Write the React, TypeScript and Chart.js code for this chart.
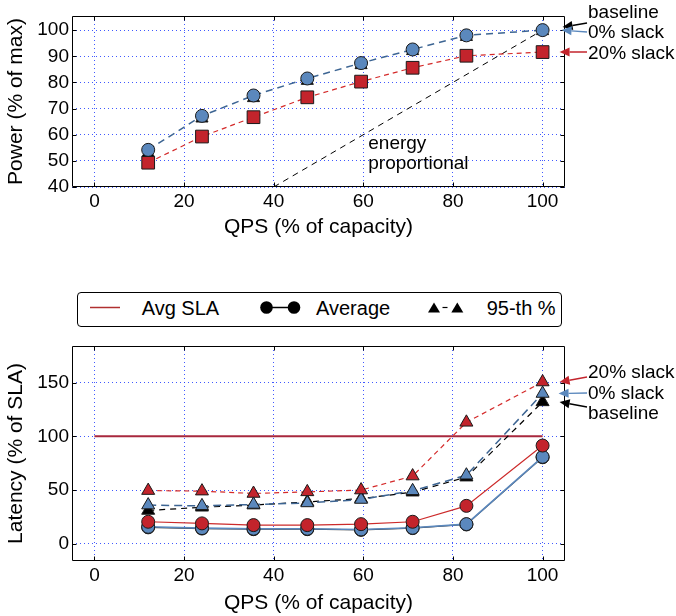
import { useEffect, useRef } from "react";
import { Chart, registerables } from "chart.js";

Chart.register(...registerables);

const FONT = "'Liberation Sans', Arial, Helvetica, sans-serif";

// ---------- data ----------
const qps = [12, 24, 35.5, 47.5, 59.5, 71, 83, 100];
const qpsTicks = [0, 20, 40, 60, 80, 100];

const powerBaseline = [53, 66.2, 74, 80.6, 86.6, 92, 97.4, 99.6];
const power0Slack = [54.2, 67.2, 75, 81.5, 87.4, 92.6, 98, 100];
const power20Slack = [49.3, 59.3, 66.7, 74.3, 80.3, 85.6, 90.2, 91.6];
const energyPropX = [40, 100];
const energyPropY = [40, 100];
const powerTicks = [40, 50, 60, 70, 80, 90, 100];

const latAvgBaseline = [15.3, 14.2, 13.6, 13.6, 13, 14.6, 18, 80.5];
const latAvg0Slack = [15.8, 14.6, 14, 14, 13.3, 14.9, 18.3, 80.9];
const latAvg20Slack = [20.5, 19, 17.4, 17.4, 18.3, 20.5, 35.3, 91.4];
const lat95Baseline = [31, 34, 36, 39, 42, 48, 62, 132];
const lat95_0Slack = [36, 35.3, 36.6, 38, 41.2, 49.3, 63.8, 139.8];
const lat95_20Slack = [49.5, 49, 46.8, 48.3, 50, 63, 113, 150.5];
const slaX = [0, 100];
const slaY = [100, 100];
const latTicks = [0, 50, 100, 150];

// ---------- styles ----------
const GRID = "rgba(30,60,255,0.85)";
const RED = "#c3242c";
const BLUE = "#5b88bd";
const DBLUE = "#3d6593";
const EDGE = "#1a1a1a";

const xy = (xs: number[], ys: number[]) => xs.map((x, i) => ({ x, y: ys[i] }));

function drawArrow(ctx: CanvasRenderingContext2D, x1: number, y1: number, x2: number, y2: number, color: string) {
  const a = Math.atan2(y2 - y1, x2 - x1);
  const L = 10, W = 4.5;
  const c = Math.cos(a), s = Math.sin(a);
  ctx.strokeStyle = color;
  ctx.fillStyle = color;
  ctx.lineWidth = 1.4;
  ctx.beginPath();
  ctx.moveTo(x1, y1);
  ctx.lineTo(x2 - L * c, y2 - L * s);
  ctx.stroke();
  ctx.beginPath();
  ctx.moveTo(x2, y2);
  ctx.lineTo(x2 - L * c - W * s, y2 - L * s + W * c);
  ctx.lineTo(x2 - L * c + W * s, y2 - L * s - W * c);
  ctx.closePath();
  ctx.fill();
}

const framePlugin = {
  id: "frame",
  beforeDatasetsDraw(chart: any) {
    const { ctx, chartArea: a, scales } = chart;
    ctx.save();
    ctx.strokeStyle = "#000";
    ctx.lineWidth = 1;
    const l = Math.round(a.left) + 0.5, r = Math.round(a.right) - 0.5;
    const t = Math.round(a.top) + 0.5, b = Math.round(a.bottom) - 0.5;
    ctx.beginPath();
    ctx.rect(l, t, r - l, b - t);
    for (const tk of scales.x.ticks) {
      const px = Math.round(scales.x.getPixelForValue(tk.value)) + 0.5;
      ctx.moveTo(px, b); ctx.lineTo(px, b - 4);
      ctx.moveTo(px, t); ctx.lineTo(px, t + 4);
    }
    for (const tk of scales.y.ticks) {
      const py = Math.round(scales.y.getPixelForValue(tk.value)) + 0.5;
      ctx.moveTo(l, py); ctx.lineTo(l + 4, py);
      ctx.moveTo(r, py); ctx.lineTo(r - 4, py);
    }
    ctx.stroke();
    ctx.restore();
  },
  afterDraw(chart: any, _args: any, opts: any) {
    const { ctx, scales, chartArea } = chart;
    ctx.save();
    ctx.font = `19px ${FONT}`;
    ctx.textBaseline = "middle";
    ctx.textAlign = "left";
    for (const it of opts.notes || []) {
      ctx.fillStyle = "#000";
      ctx.fillText(it.text, chartArea.right + 23, it.textY);
      const tx = scales.x.getPixelForValue(it.target[0]) + it.dx;
      const ty = scales.y.getPixelForValue(it.target[1]) + it.dy;
      drawArrow(ctx, chartArea.right + 22, it.tailY, tx, ty, it.color);
    }
    for (const lb of opts.labels || []) {
      ctx.fillStyle = "#000";
      const px = scales.x.getPixelForValue(lb.at[0]);
      const py = scales.y.getPixelForValue(lb.at[1]);
      lb.lines.forEach((s: string, i: number) => ctx.fillText(s, px, py + i * 20));
    }
    ctx.restore();
  },
};

function makeScales(yMin: number, yMax: number, yTicks: number[], yTitle: string, xHeight: number) {
  const tickFont = { size: 19, family: FONT };
  const titleFont = { size: 21, family: FONT };
  return {
    x: {
      type: "linear",
      min: -5,
      max: 105,
      afterBuildTicks: (s: any) => { s.ticks = qpsTicks.map((v) => ({ value: v })); },
      afterFit: (s: any) => { s.height = xHeight; },
      grid: { color: GRID, lineWidth: 1, drawTicks: false },
      border: { display: false, dash: [1, 3] },
      ticks: { color: "#000", font: tickFont, padding: 3, maxRotation: 0, autoSkip: false },
      title: { display: true, text: "QPS (% of capacity)", color: "#000", font: titleFont, padding: { top: 0, bottom: 0 } },
    },
    y: {
      type: "linear",
      min: yMin,
      max: yMax,
      afterBuildTicks: (s: any) => { s.ticks = yTicks.map((v) => ({ value: v })); },
      afterFit: (s: any) => { s.width = 72; },
      grid: { color: GRID, lineWidth: 1, drawTicks: false },
      border: { display: false, dash: [1, 3] },
      ticks: { color: "#000", font: tickFont, padding: 3, autoSkip: false },
      title: { display: true, text: yTitle, color: "#000", font: titleFont, padding: { top: 4, bottom: 0 } },
    },
  };
}

const mk = (base: any) => ({
  pointBorderColor: EDGE,
  pointBorderWidth: 1,
  tension: 0,
  fill: false,
  ...base,
});

export default function App() {
  const topRef = useRef<HTMLCanvasElement>(null);
  const botRef = useRef<HTMLCanvasElement>(null);

  useEffect(() => {
    const top = new Chart(topRef.current!, {
      type: "line",
      data: {
        datasets: [
          mk({ label: "0% slack", data: xy(qps, power0Slack), borderColor: DBLUE, borderWidth: 1.5, borderDash: [7, 5], pointStyle: "circle", pointRadius: 6.5, pointBackgroundColor: BLUE }),
          mk({ label: "baseline", data: xy(qps, powerBaseline), showLine: false, pointStyle: "triangle", pointRadius: 7, pointBackgroundColor: "#000" }),
          mk({ label: "20% slack", data: xy(qps, power20Slack), borderColor: "#d42a2a", borderWidth: 1.2, borderDash: [5, 4], pointStyle: "rect", pointRadius: 9, pointBackgroundColor: RED }),
          mk({ label: "energy proportional", data: xy(energyPropX, energyPropY), borderColor: "#000", borderWidth: 1, borderDash: [6, 5], pointRadius: 0 }),
        ],
      },
      options: {
        responsive: false,
        animation: false,
        events: [],
        layout: { padding: { left: 0, top: 16, right: 111, bottom: 0 } },
        scales: makeScales(40, 105.4, powerTicks, "Power (% of max)", 53) as any,
        plugins: {
          legend: { display: false },
          tooltip: { enabled: false },
          frame: {
            notes: [
              { text: "baseline", textY: 12.5, tailY: 23, target: [100, 100], dx: 20, dy: -3, color: "#000" },
              { text: "0% slack", textY: 32.7, tailY: 32, target: [100, 100], dx: 19, dy: 0, color: BLUE },
              { text: "20% slack", textY: 53.3, tailY: 52, target: [100, 91.6], dx: 17, dy: 0, color: RED },
            ],
            labels: [{ at: [61.1, 56.6], lines: ["energy", "proportional"] }],
          },
        } as any,
      },
      plugins: [framePlugin],
    } as any);

    const bot = new Chart(botRef.current!, {
      type: "line",
      data: {
        datasets: [
          mk({ label: "20% slack 95th", data: xy(qps, lat95_20Slack), borderColor: "#d42a2a", borderWidth: 1.2, borderDash: [5, 4], pointStyle: "triangle", pointRadius: 7.5, pointBackgroundColor: RED }),
          mk({ label: "0% slack 95th", data: xy(qps, lat95_0Slack), borderColor: DBLUE, borderWidth: 1.5, borderDash: [8, 5], pointStyle: "triangle", pointRadius: 7.5, pointBackgroundColor: BLUE }),
          mk({ label: "baseline 95th", data: xy(qps, lat95Baseline), borderColor: "#000", borderWidth: 1.2, borderDash: [6, 5], pointStyle: "triangle", pointRadius: 7.5, pointBackgroundColor: "#000" }),
          mk({ label: "20% slack avg", data: xy(qps, latAvg20Slack), borderColor: "#cc2a2a", borderWidth: 1.2, pointStyle: "circle", pointRadius: 6.5, pointBackgroundColor: RED }),
          mk({ label: "0% slack avg", data: xy(qps, latAvg0Slack), borderColor: BLUE, borderWidth: 1.6, pointStyle: "circle", pointRadius: 6.5, pointBackgroundColor: BLUE }),
          mk({ label: "baseline avg", data: xy(qps, latAvgBaseline), borderColor: "#333", borderWidth: 1.2, pointStyle: "circle", pointRadius: 6.5, pointBackgroundColor: "#000" }),
          mk({ label: "Avg SLA", data: xy(slaX, slaY), borderColor: "#a8283e", borderWidth: 2, pointRadius: 0 }),
        ],
      },
      options: {
        responsive: false,
        animation: false,
        events: [],
        layout: { padding: { left: 0, top: 16, right: 111, bottom: 0 } },
        scales: makeScales(-16, 184, latTicks, "Latency (% of SLA)", 55) as any,
        plugins: {
          legend: { display: false },
          tooltip: { enabled: false },
          frame: {
            notes: [
              { text: "20% slack", textY: 43, tailY: 47, target: [100, 150.5], dx: 17, dy: 0, color: RED },
              { text: "0% slack", textY: 64, tailY: 63, target: [100, 139.8], dx: 16, dy: 0, color: BLUE },
              { text: "baseline", textY: 84, tailY: 77, target: [100, 132], dx: 17, dy: 0, color: "#000" },
            ],
          },
        } as any,
      },
      plugins: [framePlugin],
    } as any);

    return () => {
      top.destroy();
      bot.destroy();
    };
  }, []);

  const txt = (left: number, s: string) => (
    <span style={{ position: "absolute", left, top: 0, lineHeight: "30px", fontSize: 20, whiteSpace: "nowrap", color: "#000" }}>{s}</span>
  );

  return (
    <div style={{ position: "fixed", left: 0, top: 0, width: 676, height: 616, background: "#fff", fontFamily: FONT }}>
      <canvas ref={topRef} width={676} height={240} style={{ position: "absolute", left: 0, top: 0 }} />
      <div style={{ position: "absolute", left: 77, top: 292, width: 485, height: 35, border: "1px solid #000", borderRadius: 4, boxSizing: "border-box" }}>
        <svg width={483} height={33} style={{ position: "absolute", left: 0, top: 0 }}>
          <line x1={12} y1={14.5} x2={42} y2={14.5} stroke="#b03030" strokeWidth={1.5} />
          <line x1={188.5} y1={14.5} x2={216} y2={14.5} stroke="#000" strokeWidth={1.5} />
          <circle cx={188.5} cy={14.5} r={6.3} fill="#000" />
          <circle cx={216} cy={14.5} r={6.3} fill="#000" />
          <polygon points="356,9.5 350,19.5 362,19.5" fill="#000" />
          <polygon points="379.3,9.5 373.3,19.5 385.3,19.5" fill="#000" />
          <line x1={364.5} y1={14.5} x2={369.5} y2={14.5} stroke="#000" strokeWidth={1.2} />
        </svg>
        {txt(63.7, "Avg SLA")}
        {txt(238, "Average")}
        {txt(408.7, "95-th %")}
      </div>
      <canvas ref={botRef} width={676} height={286} style={{ position: "absolute", left: 0, top: 330 }} />
    </div>
  );
}
